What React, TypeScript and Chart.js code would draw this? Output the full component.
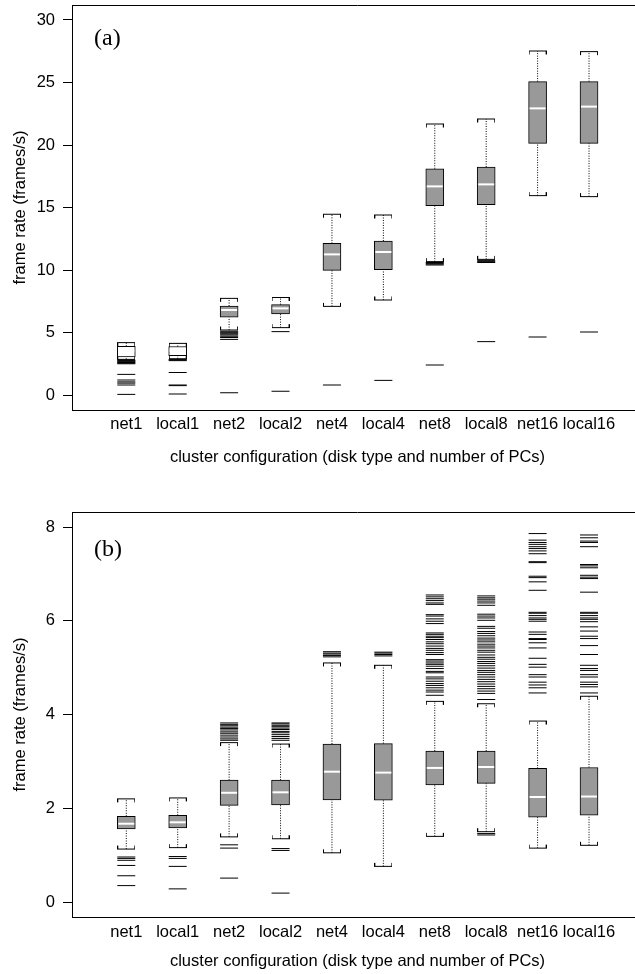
import React, { useEffect, useRef } from 'react';
import { Chart, registerables } from 'chart.js';

Chart.register(...registerables);

const categories = ['net1', 'local1', 'net2', 'local2', 'net4', 'local4', 'net8', 'local8', 'net16', 'local16'];

// ---------- Panel (a) ----------
const aLowerWhisker = [2.85, 2.9, 5.2, 5.39, 7.09, 7.6, 10.67, 10.85, 15.95, 15.87];
const aQ1 = [3.05, 3.15, 6.22, 6.48, 9.97, 10.03, 15.15, 15.23, 20.13, 20.13];
const aMedian = [3.55, 3.55, 6.8, 6.93, 11.25, 11.44, 16.69, 16.85, 22.93, 23.07];
const aQ3 = [3.9, 3.88, 7.12, 7.23, 12.13, 12.32, 18.1, 18.24, 25.07, 25.07];
const aUpperWhisker = [4.19, 4.13, 7.73, 7.8, 14.46, 14.4, 21.68, 22.08, 27.52, 27.47];
const aOutliers = [
  [2.8, 2.75, 2.7, 2.65, 2.6, 2.55, 2.5, 1.65, 1.2, 1.05, 0.95, 0.8, 0.05],
  [2.85, 2.8, 2.75, 1.8, 0.8, 0.75, 0.08],
  [5.1, 5.02, 4.95, 4.88, 4.8, 4.7, 4.6, 4.45, 0.18],
  [5.07, 0.3],
  [0.8],
  [1.17],
  [10.6, 10.53, 10.47, 10.4, 2.4],
  [10.75, 10.67, 10.6, 4.27],
  [4.64],
  [5.04],
];
const aBoxFill = ['#ffffff', '#ffffff', '#999999', '#999999', '#999999', '#999999', '#999999', '#999999', '#999999', '#999999'];
const aYTicks = [0, 5, 10, 15, 20, 25, 30];

// ---------- Panel (b) ----------
const bLowerWhisker = [1.13, 1.16, 1.39, 1.35, 1.05, 0.76, 1.4, 1.5, 1.15, 1.21];
const bQ1 = [1.56, 1.58, 2.06, 2.07, 2.18, 2.17, 2.5, 2.53, 1.81, 1.85];
const bMedian = [1.67, 1.7, 2.33, 2.34, 2.78, 2.76, 2.86, 2.88, 2.24, 2.25];
const bQ3 = [1.83, 1.85, 2.6, 2.6, 3.37, 3.38, 3.22, 3.22, 2.85, 2.87];
const bUpperWhisker = [2.2, 2.22, 3.4, 3.37, 5.1, 5.05, 4.28, 4.23, 3.86, 4.39];
const bOutliers = [
  [0.96, 0.93, 0.89, 0.78, 0.56, 0.35],
  [0.97, 0.93, 0.76, 0.28],
  [3.82, 3.79, 3.76, 3.73, 3.7, 3.67, 3.63, 3.6, 3.56, 3.52, 3.48, 3.45, 1.22, 1.15, 0.51],
  [3.82, 3.8, 3.77, 3.74, 3.71, 3.68, 3.64, 3.61, 3.57, 3.53, 3.49, 3.45, 1.14, 1.1, 0.19],
  [5.34, 5.31, 5.29, 5.26, 5.23],
  [5.33, 5.31, 5.28, 5.25],
  [6.55, 6.51, 6.47, 6.43, 6.38, 6.35, 6.13, 6.1, 6.04, 5.99, 5.94, 5.74, 5.71, 5.67, 5.64, 5.6, 5.55, 5.51,
    5.46, 5.41, 5.37, 5.32, 5.28, 5.17, 5.14, 5.1, 5.07, 5.03, 4.98, 4.92, 4.89, 4.8, 4.76, 4.71, 4.66, 4.62,
    4.57, 4.52, 4.48, 4.41],
  [6.53, 6.49, 6.46, 6.42, 6.38, 6.33, 6.14, 6.1, 6.06, 6.01, 5.88, 5.84, 5.77, 5.73, 5.68, 5.63, 5.59, 5.55,
    5.5, 5.46, 5.42, 5.37, 5.33, 5.27, 5.22, 5.18, 5.13, 5.09, 5.04, 4.99, 4.94, 4.9, 4.85, 4.8, 4.75, 4.7,
    4.65, 4.6, 4.55, 4.5, 4.45, 4.32, 1.46, 1.43],
  [7.86, 7.72, 7.67, 7.63, 7.58, 7.54, 7.49, 7.43, 7.26, 7.24, 6.95, 6.92, 6.83, 6.65, 6.18, 6.16, 6.11, 6.06,
    6.03, 5.99, 5.76, 5.71, 5.62, 5.6, 5.53, 5.42, 5.2, 5.07, 5.01, 4.85, 4.8, 4.69, 4.63, 4.57, 4.46],
  [7.83, 7.77, 7.7, 7.67, 7.58, 7.2, 7.17, 7.13, 6.97, 6.93, 6.9, 6.61, 6.18, 6.16, 6.11, 6.06, 6.03, 5.98,
    5.87, 5.78, 5.67, 5.62, 5.47, 5.28, 5.05, 4.98, 4.94, 4.85, 4.8, 4.69, 4.64, 4.59, 4.46],
];
const bBoxFill = ['#999999', '#999999', '#999999', '#999999', '#999999', '#999999', '#999999', '#999999', '#999999', '#999999'];
const bYTicks = [0, 2, 4, 6, 8];

const FONT = '"Liberation Sans", Arial, Helvetica, sans-serif';
const SERIF = '"Liberation Serif", "Times New Roman", serif';
const FS = 16.5;
const CANVAS_W = 643;
const CANVAS_H = 487;

function makeCap(ticksDown: boolean): HTMLCanvasElement {
  const c = document.createElement('canvas');
  c.width = 18;
  c.height = 9;
  const g = c.getContext('2d')!;
  g.strokeStyle = '#000';
  g.lineWidth = 1;
  g.beginPath();
  g.moveTo(0, 4.5);
  g.lineTo(18, 4.5);
  if (ticksDown) {
    g.moveTo(0.5, 4.5); g.lineTo(0.5, 8);
    g.moveTo(17.5, 4.5); g.lineTo(17.5, 8);
  } else {
    g.moveTo(0.5, 1); g.lineTo(0.5, 4.5);
    g.moveTo(17.5, 1); g.lineTo(17.5, 4.5);
  }
  g.stroke();
  return c;
}

const framePlugin = {
  id: 'frameAndLabel',
  afterDraw(chart: any, _args: any, opts: any) {
    const { ctx, chartArea } = chart;
    ctx.save();
    ctx.strokeStyle = '#000';
    ctx.lineWidth = 1;
    ctx.beginPath();
    const y = Math.round(chartArea.top) + 0.5;
    ctx.moveTo(chartArea.left, y);
    ctx.lineTo(chartArea.right, y);
    ctx.stroke();
    ctx.font = `24px ${SERIF}`;
    ctx.fillStyle = '#000';
    ctx.textAlign = 'left';
    ctx.textBaseline = 'alphabetic';
    ctx.fillText(opts.text, chartArea.left + opts.dx, chartArea.top + opts.dy);
    ctx.restore();
  },
};

type PanelProps = {
  label: string;
  lower: number[];
  q1: number[];
  med: number[];
  q3: number[];
  upper: number[];
  outliers: number[][];
  fill: string[];
  yMin: number;
  yMax: number;
  yTicks: number[];
  top: number;
  padTop: number;
  xAxisH: number;
  tickPad: number;
  titlePadBottom: number;
  labelDy: number;
};

function Panel(p: PanelProps) {
  const ref = useRef<HTMLCanvasElement | null>(null);
  useEffect(() => {
    if (!ref.current) return;
    const capUp = makeCap(true);
    const capDown = makeCap(false);
    const whiskerPts: any[] = [];
    categories.forEach((_, i) => {
      whiskerPts.push({ x: i + 1, y: p.lower[i] }, { x: i + 1, y: p.q1[i] }, { x: i + 1, y: null });
      whiskerPts.push({ x: i + 1, y: p.q3[i] }, { x: i + 1, y: p.upper[i] }, { x: i + 1, y: null });
    });
    const chart = new Chart(ref.current, {
      type: 'bar',
      data: {
        datasets: [
          {
            type: 'scatter',
            label: 'median',
            data: p.med.map((v, i) => ({ x: i + 1, y: v })),
            pointStyle: 'line',
            pointRadius: 8,
            pointBorderColor: '#ffffff',
            pointBorderWidth: 2,
            order: 0,
          } as any,
          {
            type: 'bar',
            label: 'box',
            data: p.q1.map((v, i) => ({ x: i + 1, y: [v, p.q3[i]] })),
            backgroundColor: p.fill,
            borderColor: '#000',
            borderWidth: 1,
            borderSkipped: false,
            barThickness: 18,
            grouped: false,
            order: 1,
          } as any,
          {
            type: 'scatter',
            label: 'upper cap',
            data: p.upper.map((v, i) => ({ x: i + 1, y: v })),
            pointStyle: capUp,
            pointRadius: 9,
            order: 2,
          } as any,
          {
            type: 'scatter',
            label: 'lower cap',
            data: p.lower.map((v, i) => ({ x: i + 1, y: v })),
            pointStyle: capDown,
            pointRadius: 9,
            order: 2,
          } as any,
          {
            type: 'line',
            label: 'whiskers',
            data: whiskerPts,
            borderColor: '#000',
            borderWidth: 1,
            borderDash: [1, 1.5],
            pointRadius: 0,
            spanGaps: false,
            tension: 0,
            order: 3,
          } as any,
          {
            type: 'scatter',
            label: 'outliers',
            data: p.outliers.flatMap((arr, i) => arr.map((v) => ({ x: i + 1, y: v }))),
            pointStyle: 'line',
            pointRadius: 9,
            pointBorderColor: '#000',
            pointBorderWidth: 1,
            order: 4,
          } as any,
        ],
      },
      options: {
        animation: false,
        responsive: false,
        events: [],
        layout: { autoPadding: false, padding: { top: p.padTop, left: 0, right: 0, bottom: 0 } },
        plugins: {
          legend: { display: false },
          tooltip: { enabled: false },
          frameAndLabel: { text: p.label, dx: 22, dy: p.labelDy },
        } as any,
        scales: {
          x: {
            type: 'linear',
            min: -0.056,
            max: 11.05,
            offset: false,
            grid: { display: false, drawTicks: false },
            border: { display: true, color: '#000', width: 1 },
            ticks: {
              autoSkip: false,
              maxRotation: 0,
              minRotation: 0,
              padding: p.tickPad,
              color: '#000',
              font: { family: FONT, size: FS },
              callback: (v: any) => categories[Math.round(Number(v)) - 1] ?? '',
            },
            title: {
              display: true,
              text: 'cluster configuration (disk type and number of PCs)',
              color: '#000',
              font: { family: FONT, size: FS },
              padding: { top: 0, bottom: p.titlePadBottom },
            },
            afterBuildTicks: (s: any) => {
              s.ticks = categories.map((_, i) => ({ value: i + 1 }));
            },
            afterFit: (s: any) => {
              s.height = p.xAxisH;
              s.paddingLeft = 0;
              s.paddingRight = 0;
            },
          },
          y: {
            type: 'linear',
            min: p.yMin,
            max: p.yMax,
            grid: { display: true, drawOnChartArea: false, drawTicks: true, tickLength: 9, color: '#000', lineWidth: 1 },
            border: { display: true, color: '#000', width: 1 },
            ticks: {
              padding: 8,
              color: '#000',
              font: { family: FONT, size: FS },
            },
            title: {
              display: true,
              text: 'frame rate (frames/s)',
              color: '#000',
              font: { family: FONT, size: FS },
              padding: { top: 10.4, bottom: 0 },
            },
            afterBuildTicks: (s: any) => {
              s.ticks = p.yTicks.map((v) => ({ value: v }));
            },
            afterFit: (s: any) => {
              s.width = 72;
              s.paddingTop = 0;
              s.paddingBottom = 0;
            },
          },
        },
      } as any,
      plugins: [framePlugin as any],
    });
    return () => chart.destroy();
  }, []);
  return (
    <canvas
      ref={ref}
      width={CANVAS_W}
      height={CANVAS_H}
      style={{ position: 'absolute', left: 0, top: p.top, width: CANVAS_W, height: CANVAS_H }}
    />
  );
}

export default function App() {
  return (
    <div style={{ position: 'absolute', left: 0, top: 0, width: 635, height: 974, overflow: 'hidden', background: '#fff' }}>
      <Panel
        label="(a)"
        lower={aLowerWhisker}
        q1={aQ1}
        med={aMedian}
        q3={aQ3}
        upper={aUpperWhisker}
        outliers={aOutliers}
        fill={aBoxFill}
        yMin={-1.2}
        yMax={31.2}
        yTicks={aYTicks}
        top={0}
        padTop={5}
        xAxisH={77}
        tickPad={5}
        titlePadBottom={19.6}
        labelDy={40.4}
      />
      <Panel
        label="(b)"
        lower={bLowerWhisker}
        q1={bQ1}
        med={bMedian}
        q3={bQ3}
        upper={bUpperWhisker}
        outliers={bOutliers}
        fill={bBoxFill}
        yMin={-0.32}
        yMax={8.32}
        yTicks={bYTicks}
        top={487}
        padTop={25}
        xAxisH={57}
        tickPad={6}
        titlePadBottom={3.1}
        labelDy={44}
      />
    </div>
  );
}
